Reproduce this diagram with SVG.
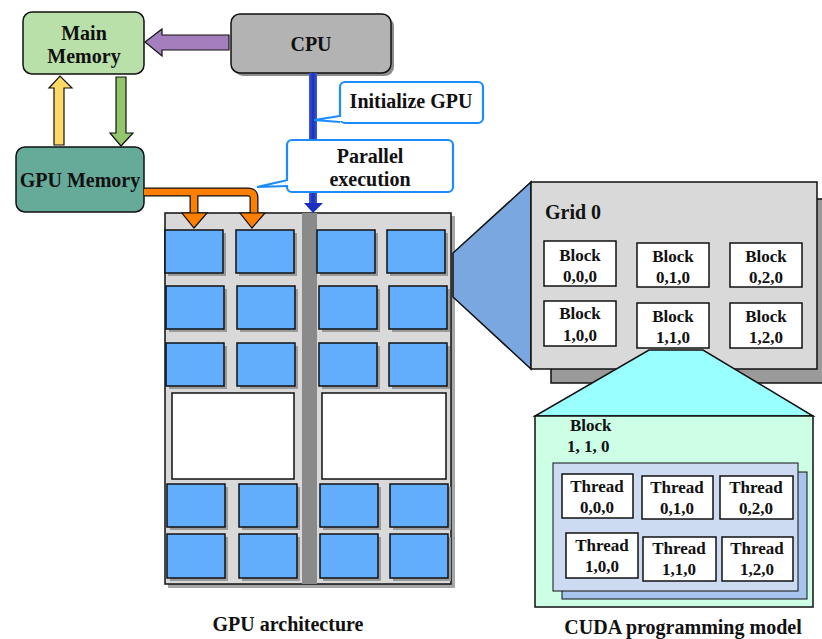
<svg xmlns="http://www.w3.org/2000/svg" width="822" height="639" viewBox="0 0 822 639">
<style>
text{font-family:"Liberation Serif","Times New Roman",serif;font-weight:bold;fill:#111;text-anchor:middle}
.t17{font-size:20px}
.t15{font-size:17px}
.cell{fill:#63aefc;stroke:#111;stroke-width:1.5}
.cs{fill:#9a9a9a}
.blk{fill:#fff;stroke:#111;stroke-width:1.5}
.call{fill:#fff;stroke:#1a8cff;stroke-width:2.2}
</style>
<defs>
<linearGradient id="bl" x1="0" x2="1" y1="0" y2="0">
<stop offset="0" stop-color="#3a5ad8"/><stop offset="0.5" stop-color="#1a2fc0"/><stop offset="1" stop-color="#3a5ad8"/>
</linearGradient>
</defs>

<g id="main-memory">
<rect x="23" y="12" width="121" height="62" rx="9" fill="#b8e0a8" stroke="#111" stroke-width="1.5"/>
<text class="t17" x="84" y="40">Main</text>
<text class="t17" x="84" y="63">Memory</text>
</g>

<g id="cpu">
<rect x="234" y="17" width="160" height="59" rx="9" fill="#8c8c8c"/>
<rect x="231" y="14" width="160" height="59" rx="9" fill="#b3b3b3" stroke="#111" stroke-width="1.5"/>
<text class="t17" x="311" y="51">CPU</text>
</g>

<g id="gpu-memory">
<rect x="16" y="147" width="128" height="65" rx="9" fill="#66aa9a" stroke="#111" stroke-width="1.5"/>
<text class="t17" x="80" y="187">GPU Memory</text>
</g>

<g id="gpu-architecture">
<rect x="168" y="216" width="287" height="372" fill="#a6a6a6"/>
<rect x="165" y="213" width="286" height="371" fill="#d9d9d9" stroke="#111" stroke-width="1.5"/>
<rect x="302" y="213" width="15" height="371" fill="#8a8a8a"/>
<g class="cs">
<rect x="168" y="233" width="58" height="43"/><rect x="239" y="233" width="58" height="43"/><rect x="320" y="233" width="58" height="43"/><rect x="390" y="233" width="58" height="43"/>
<rect x="169" y="289" width="58" height="43"/><rect x="240" y="289" width="58" height="43"/><rect x="322" y="289" width="58" height="43"/><rect x="392" y="289" width="58" height="43"/>
<rect x="169" y="346" width="58" height="43"/><rect x="240" y="346" width="58" height="43"/><rect x="322" y="346" width="58" height="43"/><rect x="392" y="346" width="58" height="43"/>
<rect x="170" y="487" width="58" height="43"/><rect x="242" y="487" width="58" height="43"/><rect x="323" y="487" width="58" height="43"/><rect x="393" y="487" width="58" height="43"/>
<rect x="170" y="537" width="58" height="44"/><rect x="242" y="537" width="58" height="44"/><rect x="323" y="537" width="58" height="44"/><rect x="393" y="537" width="58" height="44"/>
</g>
<rect class="cell" x="165" y="230" width="58" height="43"/><rect class="cell" x="236" y="230" width="58" height="43"/><rect class="cell" x="317" y="230" width="58" height="43"/><rect class="cell" x="387" y="230" width="58" height="43"/>
<rect class="cell" x="166" y="286" width="58" height="43"/><rect class="cell" x="237" y="286" width="58" height="43"/><rect class="cell" x="319" y="286" width="58" height="43"/><rect class="cell" x="389" y="286" width="58" height="43"/>
<rect class="cell" x="166" y="343" width="58" height="43"/><rect class="cell" x="237" y="343" width="58" height="43"/><rect class="cell" x="319" y="343" width="58" height="43"/><rect class="cell" x="389" y="343" width="58" height="43"/>
<rect x="172" y="393" width="122" height="86" fill="#fff" stroke="#111" stroke-width="1.5"/>
<rect x="322" y="393" width="124" height="86" fill="#fff" stroke="#111" stroke-width="1.5"/>
<rect class="cell" x="167" y="484" width="58" height="43"/><rect class="cell" x="239" y="484" width="58" height="43"/><rect class="cell" x="320" y="484" width="58" height="43"/><rect class="cell" x="390" y="484" width="58" height="43"/>
<rect class="cell" x="167" y="534" width="58" height="44"/><rect class="cell" x="239" y="534" width="58" height="44"/><rect class="cell" x="320" y="534" width="58" height="44"/><rect class="cell" x="390" y="534" width="58" height="44"/>
<text class="t17" x="288" y="631">GPU architecture</text>
</g>

<g id="connectors">
<polygon points="229,35 162,35 162,29 145,42 162,56 162,50 229,50" fill="#a47fbd" stroke="#111" stroke-width="1.2"/>
<polygon points="54,145 54,88 49,88 60,76 72,88 64,88 64,145" fill="#ffd966" stroke="#111" stroke-width="1.2"/>
<polygon points="116,77 126,77 126,133 133,133 121,146 110,133 116,133" fill="#93c66a" stroke="#111" stroke-width="1.2"/>
<rect x="309" y="73" width="8" height="131" fill="url(#bl)"/>
<polygon points="304,203 323,203 313,213" fill="#1a2fc0"/>
<path d="M144,192 H248 Q254,192 254,198 V214 M194,192 V214" fill="none" stroke="#111" stroke-width="9"/>
<path d="M144,192 H248 Q254,192 254,198 V215 M194,192 V215" fill="none" stroke="#ff7f00" stroke-width="6.5"/>
<polygon points="182,213 207,213 194,228" fill="#ff7f00" stroke="#111" stroke-width="1.2"/>
<polygon points="240,213 265,213 252,228" fill="#ff7f00" stroke="#111" stroke-width="1.2"/>
</g>

<g id="callout-init">
<path d="M340,116 L314,120 L340,122" fill="#fff" stroke="#1a8cff" stroke-width="2"/>
<rect class="call" x="340" y="82" width="143" height="41" rx="5"/>
<rect x="338" y="117" width="4" height="4" fill="#fff"/>
<text class="t17" x="411" y="108">Initialize GPU</text>
</g>

<g id="callout-parallel">
<path d="M288,180 L257,187 L288,186" fill="#fff" stroke="#1a8cff" stroke-width="2"/>
<rect class="call" x="287" y="140" width="166" height="52" rx="5"/>
<rect x="286" y="181" width="4" height="4" fill="#fff"/>
<text class="t17" x="370" y="163">Parallel</text>
<text class="t17" x="370" y="186">execution</text>
</g>

<g id="grid-zoom">
<polygon points="453,253 531,182 531,369 453,297" fill="#7ba7e0" stroke="#111" stroke-width="1.5"/>
</g>

<g id="grid0">
<rect x="551" y="199" width="275" height="184" fill="#9a9a9a" stroke="#111" stroke-width="1.5"/>
<rect x="531" y="182" width="286" height="187" fill="#d9d9d9" stroke="#111" stroke-width="1.5"/>
<text class="t17" x="545" y="219" style="text-anchor:start">Grid 0</text>
</g>

<g id="block-000"><rect class="blk" x="544" y="241" width="72" height="45"/><text class="t15" x="580" y="261">Block</text><text class="t15" x="580" y="282">0,0,0</text></g>
<g id="block-010"><rect class="blk" x="637" y="243" width="72" height="44"/><text class="t15" x="673" y="262">Block</text><text class="t15" x="673" y="283">0,1,0</text></g>
<g id="block-020"><rect class="blk" x="730" y="243" width="72" height="44"/><text class="t15" x="766" y="262">Block</text><text class="t15" x="766" y="283">0,2,0</text></g>
<g id="block-100"><rect class="blk" x="544" y="301" width="72" height="45"/><text class="t15" x="580" y="319">Block</text><text class="t15" x="580" y="341">1,0,0</text></g>
<g id="block-120"><rect class="blk" x="730" y="303" width="72" height="45"/><text class="t15" x="766" y="322">Block</text><text class="t15" x="766" y="343">1,2,0</text></g>

<g id="block-zoom">
<polygon points="649,350 703,350 813,416 535,416" fill="#99ffff" stroke="#111" stroke-width="1.5"/>
</g>
<g id="block-110"><rect class="blk" x="637" y="303" width="72" height="45"/><text class="t15" x="673" y="322">Block</text><text class="t15" x="673" y="343">1,1,0</text></g>

<g id="block-detail">
<rect x="535" y="416" width="278" height="191" fill="#ccffe6" stroke="#111" stroke-width="1.5"/>
<text class="t15" x="570" y="431" style="text-anchor:start">Block</text>
<text class="t15" x="567" y="452" style="text-anchor:start">1, 1, 0</text>
<rect x="562" y="472" width="245" height="127" fill="#a9c4ec" stroke="#111" stroke-width="1"/>
<rect x="553" y="463" width="245" height="128" fill="#ccdaf2" stroke="#111" stroke-width="1"/>
</g>

<g id="thread-000"><rect class="blk" x="562" y="474" width="71" height="44"/><text class="t15" x="597" y="492">Thread</text><text class="t15" x="597" y="513">0,0,0</text></g>
<g id="thread-010"><rect class="blk" x="642" y="476" width="71" height="43"/><text class="t15" x="677" y="493">Thread</text><text class="t15" x="677" y="514">0,1,0</text></g>
<g id="thread-020"><rect class="blk" x="720" y="476" width="73" height="43"/><text class="t15" x="756" y="493">Thread</text><text class="t15" x="756" y="514">0,2,0</text></g>
<g id="thread-100"><rect class="blk" x="566" y="533" width="72" height="45"/><text class="t15" x="602" y="551">Thread</text><text class="t15" x="602" y="572">1,0,0</text></g>
<g id="thread-110"><rect class="blk" x="643" y="537" width="73" height="44"/><text class="t15" x="679" y="554">Thread</text><text class="t15" x="679" y="575">1,1,0</text></g>
<g id="thread-120"><rect class="blk" x="722" y="537" width="71" height="44"/><text class="t15" x="757" y="554">Thread</text><text class="t15" x="757" y="575">1,2,0</text></g>

<text class="t17" x="683" y="634">CUDA programming model</text>
</svg>
